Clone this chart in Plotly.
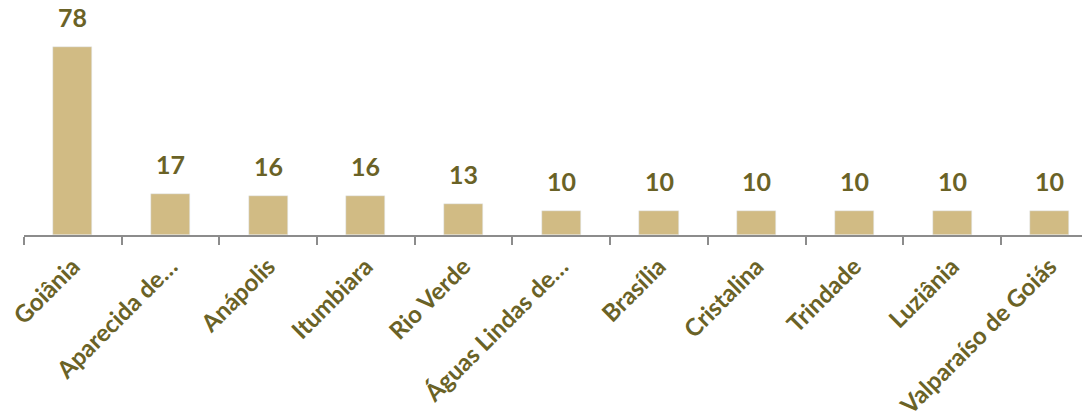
import plotly.graph_objects as go

categories = ["Goiânia", "Aparecida de…", "Anápolis", "Itumbiara", "Rio Verde",
              "Águas Lindas de…", "Brasília", "Cristalina", "Trindade", "Luziânia",
              "Valparaíso de Goiás"]
values = [78, 17, 16, 16, 13, 10, 10, 10, 10, 10, 10]

BAR = "#D1BB84"
TXT = "#6A6226"
FONT = "Lato"

fig = go.Figure(go.Bar(x=categories, y=values, marker_color=BAR, width=0.4))

for c, v in zip(categories, values):
    fig.add_annotation(x=c, y=v, text=f"<b>{v}</b>", showarrow=False,
                       yanchor="bottom", yshift=13,
                       font=dict(family=FONT, size=25, color=TXT))

fig.update_layout(
    width=1082, height=419,
    margin=dict(l=24, r=0, t=42, b=184),
    plot_bgcolor="white", paper_bgcolor="white",
    showlegend=False,
    bargap=0,
)
fig.update_xaxes(
    type="category", range=[-0.5, 10.33],
    showline=True, linecolor="#8C8C8C", linewidth=2,
    ticks="outside", tickson="boundaries", ticklen=8, tickcolor="#8C8C8C", tickwidth=2,
    tickangle=-45, showgrid=False, ticklabelstandoff=6,
    tickfont=dict(family=FONT, size=24, color=TXT, weight="bold"),
)
fig.update_yaxes(range=[0, 80], visible=False, showgrid=False)

fig.write_html("out.html")
